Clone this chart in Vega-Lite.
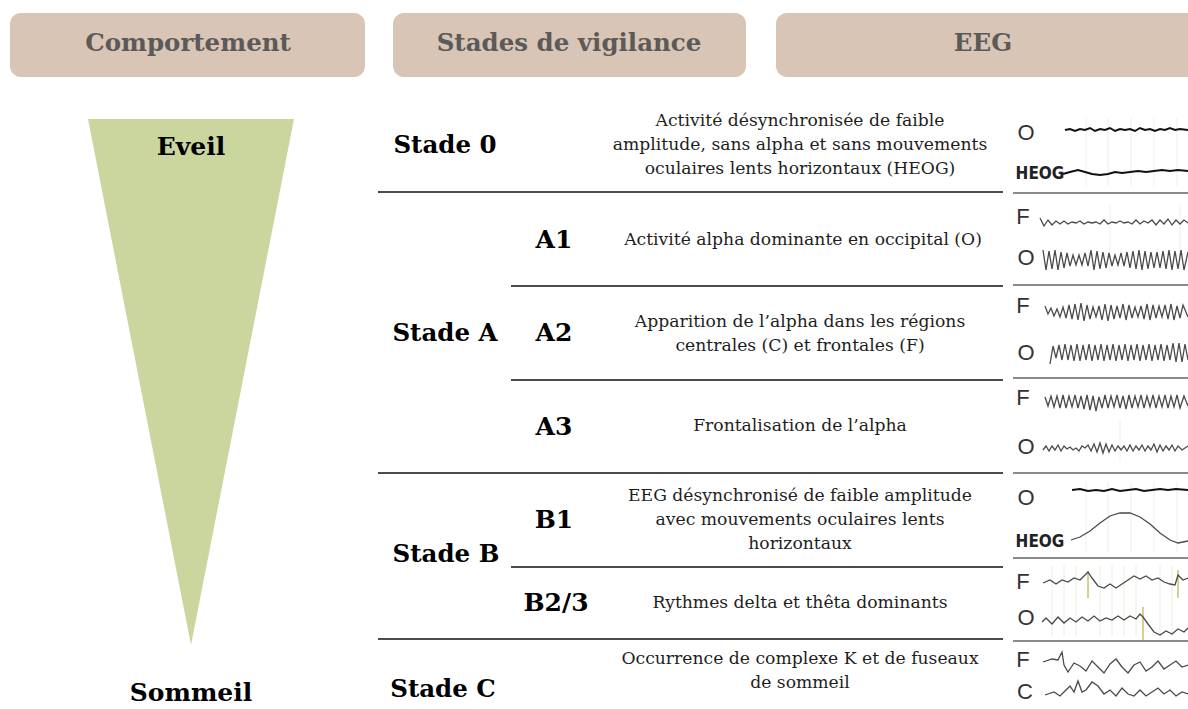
{
  "$schema": "https://vega.github.io/schema/vega-lite/v6.json",
  "width": 1188,
  "height": 709,
  "autosize": {"type": "none"},
  "padding": 0,
  "background": "white",
  "config": {"view": {"stroke": null}},
  "datasets": {
    "boxes": [
      {"x": 10, "x2": 365, "y": 13, "y2": 77},
      {"x": 393, "x2": 746, "y": 13, "y2": 77},
      {"x": 776, "x2": 1200, "y": 13, "y2": 77}
    ],
    "headers": [
      {"x": 188, "y": 44, "label": "Comportement"},
      {"x": 569, "y": 44, "label": "Stades de vigilance"},
      {"x": 983, "y": 44, "label": "EEG"}
    ],
    "triangle": [
      {"y": 119, "x": 88, "x2": 294},
      {"y": 645, "x": 191, "x2": 191}
    ],
    "rules": [
      {"x": 378, "x2": 1003, "y": 192},
      {"x": 511, "x2": 1003, "y": 286},
      {"x": 511, "x2": 1003, "y": 380},
      {"x": 378, "x2": 1003, "y": 473},
      {"x": 511, "x2": 1003, "y": 567},
      {"x": 378, "x2": 1003, "y": 639}
    ],
    "eegrules": [
      {"x": 1013, "x2": 1188, "y": 193},
      {"x": 1013, "x2": 1188, "y": 285},
      {"x": 1013, "x2": 1188, "y": 378},
      {"x": 1013, "x2": 1188, "y": 473},
      {"x": 1013, "x2": 1188, "y": 558},
      {"x": 1013, "x2": 1188, "y": 641}
    ],
    "grid": [
      {"x": 1086, "y": 118, "y2": 186}, {"x": 1108, "y": 118, "y2": 186}, {"x": 1131, "y": 118, "y2": 186}, {"x": 1154, "y": 118, "y2": 186}, {"x": 1177, "y": 118, "y2": 186},
      {"x": 1086, "y": 482, "y2": 552}, {"x": 1108, "y": 482, "y2": 552}, {"x": 1131, "y": 482, "y2": 552}, {"x": 1154, "y": 482, "y2": 552}, {"x": 1177, "y": 482, "y2": 552},
      {"x": 1110, "y": 205, "y2": 272}, {"x": 1180, "y": 205, "y2": 272},
      {"x": 1120, "y": 420, "y2": 462}
    ],
    "greengrid": [
      {"x": 1052, "y": 566, "y2": 636}, {"x": 1064, "y": 566, "y2": 636}, {"x": 1076, "y": 566, "y2": 636}, {"x": 1100, "y": 566, "y2": 636}, {"x": 1112, "y": 566, "y2": 636}, {"x": 1124, "y": 566, "y2": 636}, {"x": 1136, "y": 566, "y2": 636}, {"x": 1160, "y": 566, "y2": 636}, {"x": 1172, "y": 566, "y2": 636}
    ],
    "spikes": [
      {"x": 1088, "y": 571, "y2": 598},
      {"x": 1178, "y": 570, "y2": 598},
      {"x": 1143, "y": 607, "y2": 640}
    ],
    "behaviour": [
      {"x": 191, "y": 147, "label": "Eveil"},
      {"x": 191, "y": 693, "label": "Sommeil"}
    ],
    "stages": [
      {"x": 445, "y": 146, "label": "Stade 0"},
      {"x": 445, "y": 334, "label": "Stade A"},
      {"x": 446, "y": 555, "label": "Stade B"},
      {"x": 443, "y": 690, "label": "Stade C"}
    ],
    "substages": [
      {"x": 554, "y": 240, "label": "A1"},
      {"x": 554, "y": 333, "label": "A2"},
      {"x": 554, "y": 427, "label": "A3"},
      {"x": 554, "y": 520, "label": "B1"},
      {"x": 556, "y": 603, "label": "B2/3"}
    ],
    "descriptions": [
      {"x": 800, "y": 121, "label": "Activité désynchronisée de faible\namplitude, sans alpha et sans mouvements\noculaires lents horizontaux (HEOG)"},
      {"x": 803, "y": 240, "label": "Activité alpha dominante en occipital (O)"},
      {"x": 800, "y": 322, "label": "Apparition de l’alpha dans les régions\ncentrales (C) et frontales (F)"},
      {"x": 800, "y": 426, "label": "Frontalisation de l’alpha"},
      {"x": 800, "y": 496, "label": "EEG désynchronisé de faible amplitude\navec mouvements oculaires lents\nhorizontaux"},
      {"x": 800, "y": 603, "label": "Rythmes delta et thêta dominants"},
      {"x": 800, "y": 659, "label": "Occurrence de complexe K et de fuseaux\nde sommeil"}
    ],
    "eeglabels": [
      {"x": 1026, "y": 133, "label": "O"},
      {"x": 1023, "y": 217, "label": "F"},
      {"x": 1026, "y": 258, "label": "O"},
      {"x": 1023, "y": 306, "label": "F"},
      {"x": 1026, "y": 353, "label": "O"},
      {"x": 1023, "y": 398, "label": "F"},
      {"x": 1026, "y": 447, "label": "O"},
      {"x": 1026, "y": 498, "label": "O"},
      {"x": 1023, "y": 582, "label": "F"},
      {"x": 1026, "y": 618, "label": "O"},
      {"x": 1023, "y": 660, "label": "F"},
      {"x": 1025, "y": 692, "label": "C"}
    ],
    "heog": [
      {"x": 1040, "y": 174, "label": "HEOG"},
      {"x": 1040, "y": 542, "label": "HEOG"}
    ],
    "traces": [
      {"trace": "s0O", "x": 1065, "y": 130}, {"trace": "s0O", "x": 1070, "y": 129}, {"trace": "s0O", "x": 1075, "y": 131}, {"trace": "s0O", "x": 1080, "y": 129}, {"trace": "s0O", "x": 1085, "y": 130}, {"trace": "s0O", "x": 1090, "y": 128}, {"trace": "s0O", "x": 1095, "y": 131}, {"trace": "s0O", "x": 1100, "y": 129}, {"trace": "s0O", "x": 1105, "y": 130}, {"trace": "s0O", "x": 1110, "y": 128}, {"trace": "s0O", "x": 1115, "y": 131}, {"trace": "s0O", "x": 1120, "y": 129}, {"trace": "s0O", "x": 1125, "y": 130}, {"trace": "s0O", "x": 1130, "y": 129}, {"trace": "s0O", "x": 1135, "y": 131}, {"trace": "s0O", "x": 1140, "y": 128}, {"trace": "s0O", "x": 1145, "y": 130}, {"trace": "s0O", "x": 1150, "y": 129}, {"trace": "s0O", "x": 1155, "y": 131}, {"trace": "s0O", "x": 1160, "y": 129}, {"trace": "s0O", "x": 1165, "y": 130}, {"trace": "s0O", "x": 1170, "y": 128}, {"trace": "s0O", "x": 1175, "y": 130}, {"trace": "s0O", "x": 1180, "y": 129}, {"trace": "s0O", "x": 1188, "y": 130},

      {"trace": "s0H", "x": 1063, "y": 174}, {"trace": "s0H", "x": 1070, "y": 172}, {"trace": "s0H", "x": 1078, "y": 170}, {"trace": "s0H", "x": 1085, "y": 172}, {"trace": "s0H", "x": 1092, "y": 174}, {"trace": "s0H", "x": 1100, "y": 175}, {"trace": "s0H", "x": 1108, "y": 174}, {"trace": "s0H", "x": 1115, "y": 172}, {"trace": "s0H", "x": 1122, "y": 173}, {"trace": "s0H", "x": 1130, "y": 172}, {"trace": "s0H", "x": 1138, "y": 171}, {"trace": "s0H", "x": 1146, "y": 172}, {"trace": "s0H", "x": 1154, "y": 171}, {"trace": "s0H", "x": 1162, "y": 170}, {"trace": "s0H", "x": 1170, "y": 171}, {"trace": "s0H", "x": 1178, "y": 170}, {"trace": "s0H", "x": 1188, "y": 171},

      {"trace": "a1F", "x": 1040, "y": 218}, {"trace": "a1F", "x": 1044, "y": 226}, {"trace": "a1F", "x": 1048, "y": 220}, {"trace": "a1F", "x": 1052, "y": 225}, {"trace": "a1F", "x": 1056, "y": 221}, {"trace": "a1F", "x": 1060, "y": 224}, {"trace": "a1F", "x": 1064, "y": 221}, {"trace": "a1F", "x": 1068, "y": 224}, {"trace": "a1F", "x": 1072, "y": 222}, {"trace": "a1F", "x": 1076, "y": 223}, {"trace": "a1F", "x": 1080, "y": 221}, {"trace": "a1F", "x": 1084, "y": 224}, {"trace": "a1F", "x": 1088, "y": 222}, {"trace": "a1F", "x": 1092, "y": 223}, {"trace": "a1F", "x": 1096, "y": 222}, {"trace": "a1F", "x": 1100, "y": 224}, {"trace": "a1F", "x": 1104, "y": 220}, {"trace": "a1F", "x": 1108, "y": 224}, {"trace": "a1F", "x": 1112, "y": 222}, {"trace": "a1F", "x": 1116, "y": 223}, {"trace": "a1F", "x": 1120, "y": 221}, {"trace": "a1F", "x": 1124, "y": 223}, {"trace": "a1F", "x": 1128, "y": 222}, {"trace": "a1F", "x": 1132, "y": 224}, {"trace": "a1F", "x": 1136, "y": 220}, {"trace": "a1F", "x": 1140, "y": 224}, {"trace": "a1F", "x": 1144, "y": 221}, {"trace": "a1F", "x": 1148, "y": 223}, {"trace": "a1F", "x": 1152, "y": 220}, {"trace": "a1F", "x": 1156, "y": 225}, {"trace": "a1F", "x": 1160, "y": 220}, {"trace": "a1F", "x": 1164, "y": 224}, {"trace": "a1F", "x": 1168, "y": 219}, {"trace": "a1F", "x": 1172, "y": 225}, {"trace": "a1F", "x": 1176, "y": 220}, {"trace": "a1F", "x": 1180, "y": 224}, {"trace": "a1F", "x": 1184, "y": 220}, {"trace": "a1F", "x": 1188, "y": 223},

      {"trace": "a1O", "x": 1043, "y": 250}, {"trace": "a1O", "x": 1046, "y": 270}, {"trace": "a1O", "x": 1049, "y": 251}, {"trace": "a1O", "x": 1052, "y": 269}, {"trace": "a1O", "x": 1055, "y": 250}, {"trace": "a1O", "x": 1058, "y": 270}, {"trace": "a1O", "x": 1061, "y": 252}, {"trace": "a1O", "x": 1064, "y": 268}, {"trace": "a1O", "x": 1067, "y": 253}, {"trace": "a1O", "x": 1070, "y": 266}, {"trace": "a1O", "x": 1073, "y": 255}, {"trace": "a1O", "x": 1076, "y": 265}, {"trace": "a1O", "x": 1079, "y": 255}, {"trace": "a1O", "x": 1082, "y": 265}, {"trace": "a1O", "x": 1085, "y": 253}, {"trace": "a1O", "x": 1088, "y": 266}, {"trace": "a1O", "x": 1091, "y": 250}, {"trace": "a1O", "x": 1094, "y": 270}, {"trace": "a1O", "x": 1097, "y": 251}, {"trace": "a1O", "x": 1100, "y": 269}, {"trace": "a1O", "x": 1103, "y": 252}, {"trace": "a1O", "x": 1106, "y": 268}, {"trace": "a1O", "x": 1109, "y": 253}, {"trace": "a1O", "x": 1112, "y": 266}, {"trace": "a1O", "x": 1115, "y": 255}, {"trace": "a1O", "x": 1118, "y": 265}, {"trace": "a1O", "x": 1121, "y": 253}, {"trace": "a1O", "x": 1124, "y": 266}, {"trace": "a1O", "x": 1127, "y": 252}, {"trace": "a1O", "x": 1130, "y": 268}, {"trace": "a1O", "x": 1133, "y": 251}, {"trace": "a1O", "x": 1136, "y": 269}, {"trace": "a1O", "x": 1139, "y": 250}, {"trace": "a1O", "x": 1142, "y": 270}, {"trace": "a1O", "x": 1145, "y": 251}, {"trace": "a1O", "x": 1148, "y": 269}, {"trace": "a1O", "x": 1151, "y": 252}, {"trace": "a1O", "x": 1154, "y": 268}, {"trace": "a1O", "x": 1157, "y": 252}, {"trace": "a1O", "x": 1160, "y": 268}, {"trace": "a1O", "x": 1163, "y": 251}, {"trace": "a1O", "x": 1166, "y": 269}, {"trace": "a1O", "x": 1169, "y": 250}, {"trace": "a1O", "x": 1172, "y": 270}, {"trace": "a1O", "x": 1175, "y": 251}, {"trace": "a1O", "x": 1178, "y": 269}, {"trace": "a1O", "x": 1181, "y": 250}, {"trace": "a1O", "x": 1184, "y": 270}, {"trace": "a1O", "x": 1188, "y": 252},

      {"trace": "a2F", "x": 1045, "y": 306}, {"trace": "a2F", "x": 1048, "y": 314}, {"trace": "a2F", "x": 1051, "y": 308}, {"trace": "a2F", "x": 1054, "y": 316}, {"trace": "a2F", "x": 1057, "y": 309}, {"trace": "a2F", "x": 1060, "y": 317}, {"trace": "a2F", "x": 1063, "y": 307}, {"trace": "a2F", "x": 1066, "y": 318}, {"trace": "a2F", "x": 1069, "y": 305}, {"trace": "a2F", "x": 1072, "y": 319}, {"trace": "a2F", "x": 1075, "y": 304}, {"trace": "a2F", "x": 1078, "y": 320}, {"trace": "a2F", "x": 1081, "y": 303}, {"trace": "a2F", "x": 1084, "y": 321}, {"trace": "a2F", "x": 1087, "y": 305}, {"trace": "a2F", "x": 1090, "y": 319}, {"trace": "a2F", "x": 1093, "y": 307}, {"trace": "a2F", "x": 1096, "y": 317}, {"trace": "a2F", "x": 1099, "y": 306}, {"trace": "a2F", "x": 1102, "y": 320}, {"trace": "a2F", "x": 1105, "y": 304}, {"trace": "a2F", "x": 1108, "y": 321}, {"trace": "a2F", "x": 1111, "y": 305}, {"trace": "a2F", "x": 1114, "y": 319}, {"trace": "a2F", "x": 1117, "y": 306}, {"trace": "a2F", "x": 1120, "y": 318}, {"trace": "a2F", "x": 1123, "y": 304}, {"trace": "a2F", "x": 1126, "y": 320}, {"trace": "a2F", "x": 1129, "y": 305}, {"trace": "a2F", "x": 1132, "y": 318}, {"trace": "a2F", "x": 1135, "y": 307}, {"trace": "a2F", "x": 1138, "y": 317}, {"trace": "a2F", "x": 1141, "y": 306}, {"trace": "a2F", "x": 1144, "y": 319}, {"trace": "a2F", "x": 1147, "y": 304}, {"trace": "a2F", "x": 1150, "y": 320}, {"trace": "a2F", "x": 1153, "y": 305}, {"trace": "a2F", "x": 1156, "y": 318}, {"trace": "a2F", "x": 1159, "y": 306}, {"trace": "a2F", "x": 1162, "y": 317}, {"trace": "a2F", "x": 1165, "y": 305}, {"trace": "a2F", "x": 1168, "y": 319}, {"trace": "a2F", "x": 1171, "y": 304}, {"trace": "a2F", "x": 1174, "y": 320}, {"trace": "a2F", "x": 1177, "y": 306}, {"trace": "a2F", "x": 1180, "y": 318}, {"trace": "a2F", "x": 1183, "y": 305}, {"trace": "a2F", "x": 1188, "y": 317},

      {"trace": "a2O", "x": 1050, "y": 364}, {"trace": "a2O", "x": 1053, "y": 346}, {"trace": "a2O", "x": 1056, "y": 358}, {"trace": "a2O", "x": 1059, "y": 345}, {"trace": "a2O", "x": 1062, "y": 360}, {"trace": "a2O", "x": 1065, "y": 344}, {"trace": "a2O", "x": 1068, "y": 360}, {"trace": "a2O", "x": 1071, "y": 345}, {"trace": "a2O", "x": 1074, "y": 361}, {"trace": "a2O", "x": 1077, "y": 344}, {"trace": "a2O", "x": 1080, "y": 361}, {"trace": "a2O", "x": 1083, "y": 345}, {"trace": "a2O", "x": 1086, "y": 360}, {"trace": "a2O", "x": 1089, "y": 344}, {"trace": "a2O", "x": 1092, "y": 361}, {"trace": "a2O", "x": 1095, "y": 345}, {"trace": "a2O", "x": 1098, "y": 360}, {"trace": "a2O", "x": 1101, "y": 344}, {"trace": "a2O", "x": 1104, "y": 361}, {"trace": "a2O", "x": 1107, "y": 345}, {"trace": "a2O", "x": 1110, "y": 360}, {"trace": "a2O", "x": 1113, "y": 344}, {"trace": "a2O", "x": 1116, "y": 361}, {"trace": "a2O", "x": 1119, "y": 345}, {"trace": "a2O", "x": 1122, "y": 360}, {"trace": "a2O", "x": 1125, "y": 344}, {"trace": "a2O", "x": 1128, "y": 361}, {"trace": "a2O", "x": 1131, "y": 345}, {"trace": "a2O", "x": 1134, "y": 360}, {"trace": "a2O", "x": 1137, "y": 344}, {"trace": "a2O", "x": 1140, "y": 361}, {"trace": "a2O", "x": 1143, "y": 345}, {"trace": "a2O", "x": 1146, "y": 360}, {"trace": "a2O", "x": 1149, "y": 344}, {"trace": "a2O", "x": 1152, "y": 361}, {"trace": "a2O", "x": 1155, "y": 345}, {"trace": "a2O", "x": 1158, "y": 360}, {"trace": "a2O", "x": 1161, "y": 344}, {"trace": "a2O", "x": 1164, "y": 361}, {"trace": "a2O", "x": 1167, "y": 345}, {"trace": "a2O", "x": 1170, "y": 360}, {"trace": "a2O", "x": 1173, "y": 343}, {"trace": "a2O", "x": 1176, "y": 362}, {"trace": "a2O", "x": 1179, "y": 343}, {"trace": "a2O", "x": 1182, "y": 362}, {"trace": "a2O", "x": 1185, "y": 344}, {"trace": "a2O", "x": 1188, "y": 360},

      {"trace": "a3F", "x": 1045, "y": 397}, {"trace": "a3F", "x": 1048, "y": 406}, {"trace": "a3F", "x": 1051, "y": 396}, {"trace": "a3F", "x": 1054, "y": 407}, {"trace": "a3F", "x": 1057, "y": 396}, {"trace": "a3F", "x": 1060, "y": 408}, {"trace": "a3F", "x": 1063, "y": 395}, {"trace": "a3F", "x": 1066, "y": 408}, {"trace": "a3F", "x": 1069, "y": 396}, {"trace": "a3F", "x": 1072, "y": 407}, {"trace": "a3F", "x": 1075, "y": 395}, {"trace": "a3F", "x": 1078, "y": 408}, {"trace": "a3F", "x": 1081, "y": 396}, {"trace": "a3F", "x": 1084, "y": 409}, {"trace": "a3F", "x": 1087, "y": 395}, {"trace": "a3F", "x": 1090, "y": 410}, {"trace": "a3F", "x": 1093, "y": 396}, {"trace": "a3F", "x": 1096, "y": 411}, {"trace": "a3F", "x": 1099, "y": 397}, {"trace": "a3F", "x": 1102, "y": 408}, {"trace": "a3F", "x": 1105, "y": 395}, {"trace": "a3F", "x": 1108, "y": 408}, {"trace": "a3F", "x": 1111, "y": 396}, {"trace": "a3F", "x": 1114, "y": 407}, {"trace": "a3F", "x": 1117, "y": 395}, {"trace": "a3F", "x": 1120, "y": 408}, {"trace": "a3F", "x": 1123, "y": 396}, {"trace": "a3F", "x": 1126, "y": 409}, {"trace": "a3F", "x": 1129, "y": 395}, {"trace": "a3F", "x": 1132, "y": 408}, {"trace": "a3F", "x": 1135, "y": 396}, {"trace": "a3F", "x": 1138, "y": 407}, {"trace": "a3F", "x": 1141, "y": 395}, {"trace": "a3F", "x": 1144, "y": 408}, {"trace": "a3F", "x": 1147, "y": 396}, {"trace": "a3F", "x": 1150, "y": 407}, {"trace": "a3F", "x": 1153, "y": 395}, {"trace": "a3F", "x": 1156, "y": 408}, {"trace": "a3F", "x": 1159, "y": 396}, {"trace": "a3F", "x": 1162, "y": 407}, {"trace": "a3F", "x": 1165, "y": 395}, {"trace": "a3F", "x": 1168, "y": 408}, {"trace": "a3F", "x": 1171, "y": 396}, {"trace": "a3F", "x": 1174, "y": 407}, {"trace": "a3F", "x": 1177, "y": 395}, {"trace": "a3F", "x": 1180, "y": 408}, {"trace": "a3F", "x": 1184, "y": 396}, {"trace": "a3F", "x": 1188, "y": 406},

      {"trace": "a3O", "x": 1043, "y": 450}, {"trace": "a3O", "x": 1046, "y": 446}, {"trace": "a3O", "x": 1049, "y": 451}, {"trace": "a3O", "x": 1052, "y": 446}, {"trace": "a3O", "x": 1055, "y": 450}, {"trace": "a3O", "x": 1058, "y": 445}, {"trace": "a3O", "x": 1061, "y": 451}, {"trace": "a3O", "x": 1064, "y": 446}, {"trace": "a3O", "x": 1067, "y": 449}, {"trace": "a3O", "x": 1070, "y": 447}, {"trace": "a3O", "x": 1073, "y": 450}, {"trace": "a3O", "x": 1076, "y": 448}, {"trace": "a3O", "x": 1079, "y": 451}, {"trace": "a3O", "x": 1082, "y": 446}, {"trace": "a3O", "x": 1085, "y": 448}, {"trace": "a3O", "x": 1088, "y": 445}, {"trace": "a3O", "x": 1091, "y": 451}, {"trace": "a3O", "x": 1094, "y": 444}, {"trace": "a3O", "x": 1097, "y": 452}, {"trace": "a3O", "x": 1100, "y": 443}, {"trace": "a3O", "x": 1103, "y": 453}, {"trace": "a3O", "x": 1106, "y": 444}, {"trace": "a3O", "x": 1109, "y": 452}, {"trace": "a3O", "x": 1112, "y": 445}, {"trace": "a3O", "x": 1115, "y": 451}, {"trace": "a3O", "x": 1118, "y": 446}, {"trace": "a3O", "x": 1121, "y": 450}, {"trace": "a3O", "x": 1124, "y": 446}, {"trace": "a3O", "x": 1127, "y": 451}, {"trace": "a3O", "x": 1130, "y": 445}, {"trace": "a3O", "x": 1133, "y": 451}, {"trace": "a3O", "x": 1136, "y": 446}, {"trace": "a3O", "x": 1139, "y": 450}, {"trace": "a3O", "x": 1142, "y": 445}, {"trace": "a3O", "x": 1145, "y": 451}, {"trace": "a3O", "x": 1148, "y": 446}, {"trace": "a3O", "x": 1151, "y": 450}, {"trace": "a3O", "x": 1154, "y": 444}, {"trace": "a3O", "x": 1157, "y": 452}, {"trace": "a3O", "x": 1160, "y": 445}, {"trace": "a3O", "x": 1163, "y": 451}, {"trace": "a3O", "x": 1166, "y": 446}, {"trace": "a3O", "x": 1169, "y": 450}, {"trace": "a3O", "x": 1172, "y": 445}, {"trace": "a3O", "x": 1175, "y": 451}, {"trace": "a3O", "x": 1178, "y": 446}, {"trace": "a3O", "x": 1182, "y": 450}, {"trace": "a3O", "x": 1188, "y": 446},

      {"trace": "b1O", "x": 1072, "y": 490}, {"trace": "b1O", "x": 1080, "y": 489}, {"trace": "b1O", "x": 1088, "y": 491}, {"trace": "b1O", "x": 1096, "y": 490}, {"trace": "b1O", "x": 1104, "y": 491}, {"trace": "b1O", "x": 1112, "y": 489}, {"trace": "b1O", "x": 1120, "y": 491}, {"trace": "b1O", "x": 1128, "y": 490}, {"trace": "b1O", "x": 1136, "y": 489}, {"trace": "b1O", "x": 1144, "y": 491}, {"trace": "b1O", "x": 1152, "y": 490}, {"trace": "b1O", "x": 1160, "y": 489}, {"trace": "b1O", "x": 1168, "y": 490}, {"trace": "b1O", "x": 1176, "y": 489}, {"trace": "b1O", "x": 1188, "y": 490},

      {"trace": "b1H", "x": 1071, "y": 540}, {"trace": "b1H", "x": 1080, "y": 537}, {"trace": "b1H", "x": 1090, "y": 531}, {"trace": "b1H", "x": 1100, "y": 523}, {"trace": "b1H", "x": 1110, "y": 516}, {"trace": "b1H", "x": 1120, "y": 513}, {"trace": "b1H", "x": 1130, "y": 513}, {"trace": "b1H", "x": 1140, "y": 517}, {"trace": "b1H", "x": 1150, "y": 524}, {"trace": "b1H", "x": 1160, "y": 533}, {"trace": "b1H", "x": 1170, "y": 540}, {"trace": "b1H", "x": 1178, "y": 543}, {"trace": "b1H", "x": 1188, "y": 541},

      {"trace": "b2F", "x": 1043, "y": 583}, {"trace": "b2F", "x": 1050, "y": 580}, {"trace": "b2F", "x": 1056, "y": 584}, {"trace": "b2F", "x": 1062, "y": 580}, {"trace": "b2F", "x": 1068, "y": 582}, {"trace": "b2F", "x": 1074, "y": 578}, {"trace": "b2F", "x": 1080, "y": 580}, {"trace": "b2F", "x": 1085, "y": 575}, {"trace": "b2F", "x": 1088, "y": 572}, {"trace": "b2F", "x": 1092, "y": 578}, {"trace": "b2F", "x": 1098, "y": 586}, {"trace": "b2F", "x": 1104, "y": 588}, {"trace": "b2F", "x": 1110, "y": 584}, {"trace": "b2F", "x": 1116, "y": 588}, {"trace": "b2F", "x": 1122, "y": 584}, {"trace": "b2F", "x": 1128, "y": 580}, {"trace": "b2F", "x": 1134, "y": 576}, {"trace": "b2F", "x": 1140, "y": 579}, {"trace": "b2F", "x": 1146, "y": 576}, {"trace": "b2F", "x": 1152, "y": 580}, {"trace": "b2F", "x": 1158, "y": 578}, {"trace": "b2F", "x": 1164, "y": 582}, {"trace": "b2F", "x": 1170, "y": 584}, {"trace": "b2F", "x": 1175, "y": 585}, {"trace": "b2F", "x": 1178, "y": 575}, {"trace": "b2F", "x": 1183, "y": 580}, {"trace": "b2F", "x": 1188, "y": 578},

      {"trace": "b2O", "x": 1042, "y": 622}, {"trace": "b2O", "x": 1046, "y": 618}, {"trace": "b2O", "x": 1052, "y": 624}, {"trace": "b2O", "x": 1058, "y": 617}, {"trace": "b2O", "x": 1064, "y": 623}, {"trace": "b2O", "x": 1070, "y": 618}, {"trace": "b2O", "x": 1076, "y": 622}, {"trace": "b2O", "x": 1082, "y": 617}, {"trace": "b2O", "x": 1088, "y": 621}, {"trace": "b2O", "x": 1094, "y": 616}, {"trace": "b2O", "x": 1100, "y": 621}, {"trace": "b2O", "x": 1106, "y": 618}, {"trace": "b2O", "x": 1112, "y": 620}, {"trace": "b2O", "x": 1118, "y": 616}, {"trace": "b2O", "x": 1124, "y": 620}, {"trace": "b2O", "x": 1130, "y": 616}, {"trace": "b2O", "x": 1136, "y": 619}, {"trace": "b2O", "x": 1140, "y": 614}, {"trace": "b2O", "x": 1143, "y": 617}, {"trace": "b2O", "x": 1148, "y": 624}, {"trace": "b2O", "x": 1154, "y": 632}, {"trace": "b2O", "x": 1160, "y": 635}, {"trace": "b2O", "x": 1166, "y": 631}, {"trace": "b2O", "x": 1172, "y": 634}, {"trace": "b2O", "x": 1178, "y": 629}, {"trace": "b2O", "x": 1184, "y": 632}, {"trace": "b2O", "x": 1188, "y": 628},

      {"trace": "cF", "x": 1043, "y": 662}, {"trace": "cF", "x": 1052, "y": 659}, {"trace": "cF", "x": 1058, "y": 660}, {"trace": "cF", "x": 1062, "y": 652}, {"trace": "cF", "x": 1064, "y": 665}, {"trace": "cF", "x": 1068, "y": 672}, {"trace": "cF", "x": 1074, "y": 663}, {"trace": "cF", "x": 1080, "y": 666}, {"trace": "cF", "x": 1086, "y": 671}, {"trace": "cF", "x": 1092, "y": 661}, {"trace": "cF", "x": 1098, "y": 667}, {"trace": "cF", "x": 1104, "y": 673}, {"trace": "cF", "x": 1110, "y": 664}, {"trace": "cF", "x": 1116, "y": 659}, {"trace": "cF", "x": 1122, "y": 667}, {"trace": "cF", "x": 1128, "y": 673}, {"trace": "cF", "x": 1134, "y": 665}, {"trace": "cF", "x": 1140, "y": 662}, {"trace": "cF", "x": 1146, "y": 671}, {"trace": "cF", "x": 1152, "y": 667}, {"trace": "cF", "x": 1158, "y": 661}, {"trace": "cF", "x": 1164, "y": 669}, {"trace": "cF", "x": 1170, "y": 665}, {"trace": "cF", "x": 1176, "y": 661}, {"trace": "cF", "x": 1182, "y": 667}, {"trace": "cF", "x": 1188, "y": 665},

      {"trace": "cC", "x": 1045, "y": 695}, {"trace": "cC", "x": 1054, "y": 692}, {"trace": "cC", "x": 1060, "y": 696}, {"trace": "cC", "x": 1066, "y": 690}, {"trace": "cC", "x": 1070, "y": 686}, {"trace": "cC", "x": 1074, "y": 692}, {"trace": "cC", "x": 1078, "y": 681}, {"trace": "cC", "x": 1082, "y": 692}, {"trace": "cC", "x": 1086, "y": 690}, {"trace": "cC", "x": 1092, "y": 682}, {"trace": "cC", "x": 1098, "y": 686}, {"trace": "cC", "x": 1104, "y": 694}, {"trace": "cC", "x": 1110, "y": 690}, {"trace": "cC", "x": 1116, "y": 696}, {"trace": "cC", "x": 1122, "y": 688}, {"trace": "cC", "x": 1128, "y": 694}, {"trace": "cC", "x": 1134, "y": 696}, {"trace": "cC", "x": 1140, "y": 690}, {"trace": "cC", "x": 1146, "y": 696}, {"trace": "cC", "x": 1152, "y": 692}, {"trace": "cC", "x": 1158, "y": 688}, {"trace": "cC", "x": 1164, "y": 694}, {"trace": "cC", "x": 1170, "y": 690}, {"trace": "cC", "x": 1176, "y": 696}, {"trace": "cC", "x": 1182, "y": 692}, {"trace": "cC", "x": 1188, "y": 694}
    ]
  },
  "encoding": {
    "x": {"field": "x", "type": "quantitative", "scale": {"domain": [0, 1188], "nice": false, "zero": false}, "axis": null},
    "y": {"field": "y", "type": "quantitative", "scale": {"domain": [0, 709], "reverse": true, "nice": false, "zero": false}, "axis": null}
  },
  "layer": [
    {
      "data": {"name": "boxes"},
      "mark": {"type": "rect", "fill": "#d9c5b5", "cornerRadius": 11},
      "encoding": {"x2": {"field": "x2"}, "y2": {"field": "y2"}}
    },
    {
      "data": {"name": "headers"},
      "mark": {"type": "text", "font": "DejaVu Serif", "fontWeight": "bold", "fontSize": 24.5, "fill": "#5c5a58", "align": "center", "baseline": "middle"},
      "encoding": {"text": {"field": "label"}}
    },
    {
      "data": {"name": "triangle"},
      "mark": {"type": "area", "orient": "horizontal", "fill": "#cbd69f", "opacity": 1},
      "encoding": {"x2": {"field": "x2"}}
    },
    {
      "data": {"name": "grid"},
      "mark": {"type": "rule", "stroke": "#eeeeee", "strokeWidth": 1},
      "encoding": {"y2": {"field": "y2"}}
    },
    {
      "data": {"name": "greengrid"},
      "mark": {"type": "rule", "stroke": "#e6efdc", "strokeWidth": 1},
      "encoding": {"y2": {"field": "y2"}}
    },
    {
      "data": {"name": "rules"},
      "mark": {"type": "rule", "stroke": "#111111", "strokeWidth": 1.6},
      "encoding": {"x2": {"field": "x2"}}
    },
    {
      "data": {"name": "eegrules"},
      "mark": {"type": "rule", "stroke": "#8a8a8a", "strokeWidth": 2},
      "encoding": {"x2": {"field": "x2"}}
    },
    {
      "data": {"name": "spikes"},
      "mark": {"type": "rule", "stroke": "#c8c070", "strokeWidth": 1.5},
      "encoding": {"y2": {"field": "y2"}}
    },
    {
      "data": {"name": "traces"},
      "transform": [{"filter": "datum.trace === 's0O' || datum.trace === 'b1O' || datum.trace === 's0H'"}],
      "mark": {"type": "line", "stroke": "#111111", "strokeWidth": 2, "interpolate": "linear"},
      "encoding": {"detail": {"field": "trace"}, "order": {"field": "x", "type": "quantitative"}}
    },
    {
      "data": {"name": "traces"},
      "transform": [{"filter": "datum.trace !== 's0O' && datum.trace !== 'b1O' && datum.trace !== 's0H'"}],
      "mark": {"type": "line", "stroke": "#4a4a4a", "strokeWidth": 1.3, "interpolate": "linear"},
      "encoding": {"detail": {"field": "trace"}, "order": {"field": "x", "type": "quantitative"}}
    },
    {
      "data": {"name": "behaviour"},
      "mark": {"type": "text", "font": "DejaVu Serif", "fontWeight": "bold", "fontSize": 25, "fill": "#000000", "align": "center", "baseline": "middle"},
      "encoding": {"text": {"field": "label"}}
    },
    {
      "data": {"name": "stages"},
      "mark": {"type": "text", "font": "DejaVu Serif", "fontWeight": "bold", "fontSize": 24.5, "fill": "#000000", "align": "center", "baseline": "middle"},
      "encoding": {"text": {"field": "label"}}
    },
    {
      "data": {"name": "substages"},
      "mark": {"type": "text", "font": "DejaVu Serif", "fontWeight": "bold", "fontSize": 25, "fill": "#000000", "align": "center", "baseline": "middle"},
      "encoding": {"text": {"field": "label"}}
    },
    {
      "data": {"name": "descriptions"},
      "mark": {"type": "text", "font": "DejaVu Serif", "fontSize": 17.2, "fill": "#1e1e1e", "align": "center", "baseline": "middle", "lineBreak": "\n", "lineHeight": 24},
      "encoding": {"text": {"field": "label"}}
    },
    {
      "data": {"name": "eeglabels"},
      "mark": {"type": "text", "font": "Liberation Sans", "fontSize": 22, "fill": "#333333", "align": "center", "baseline": "middle"},
      "encoding": {"text": {"field": "label"}}
    },
    {
      "data": {"name": "heog"},
      "mark": {"type": "text", "font": "DejaVu Sans Condensed, Liberation Sans Narrow, sans-serif", "fontWeight": "bold", "fontSize": 17, "fill": "#222222", "align": "center", "baseline": "middle"},
      "encoding": {"text": {"field": "label"}}
    }
  ]
}
